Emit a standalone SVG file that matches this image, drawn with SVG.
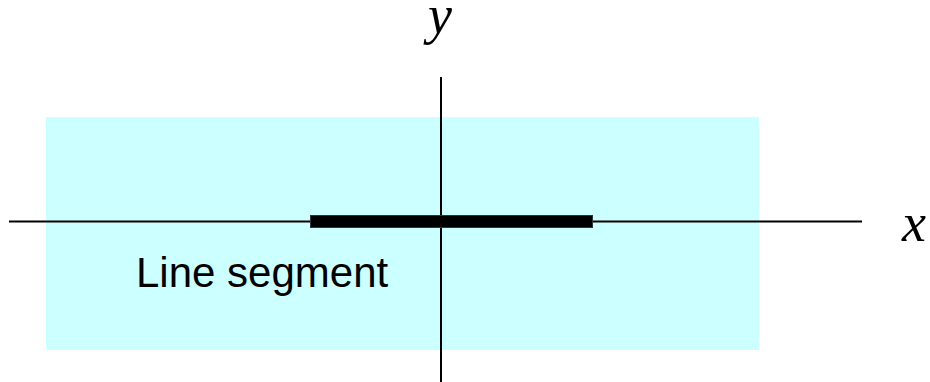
<svg xmlns="http://www.w3.org/2000/svg" width="930" height="382" viewBox="0 0 930 382">
<style>
.axis{stroke:#000;stroke-width:2;fill:none}
.var{font-family:"Liberation Serif","Times New Roman",serif;font-style:italic;font-size:54px;fill:#000}
.lbl{font-family:"Liberation Sans",Arial,sans-serif;font-size:42px;fill:#000}
</style>
<rect width="930" height="382" fill="#fff"/>
<g id="region">
<rect x="46" y="117" width="713" height="233" fill="#ccffff"/>
</g>
<g id="connectors">
<line class="axis" x1="9" y1="221.5" x2="862" y2="221.5"/>
<line class="axis" x1="441" y1="77" x2="441" y2="382"/>
</g>
<g id="segment">
<rect x="310.5" y="215.5" width="282" height="12" fill="#000" stroke="#333" stroke-width="1"/>
</g>
<g id="labels">
<text class="var" x="428" y="33">y</text>
<text class="var" x="902" y="241">x</text>
<text class="lbl" x="136" y="287">Line segment</text>
</g>
</svg>
